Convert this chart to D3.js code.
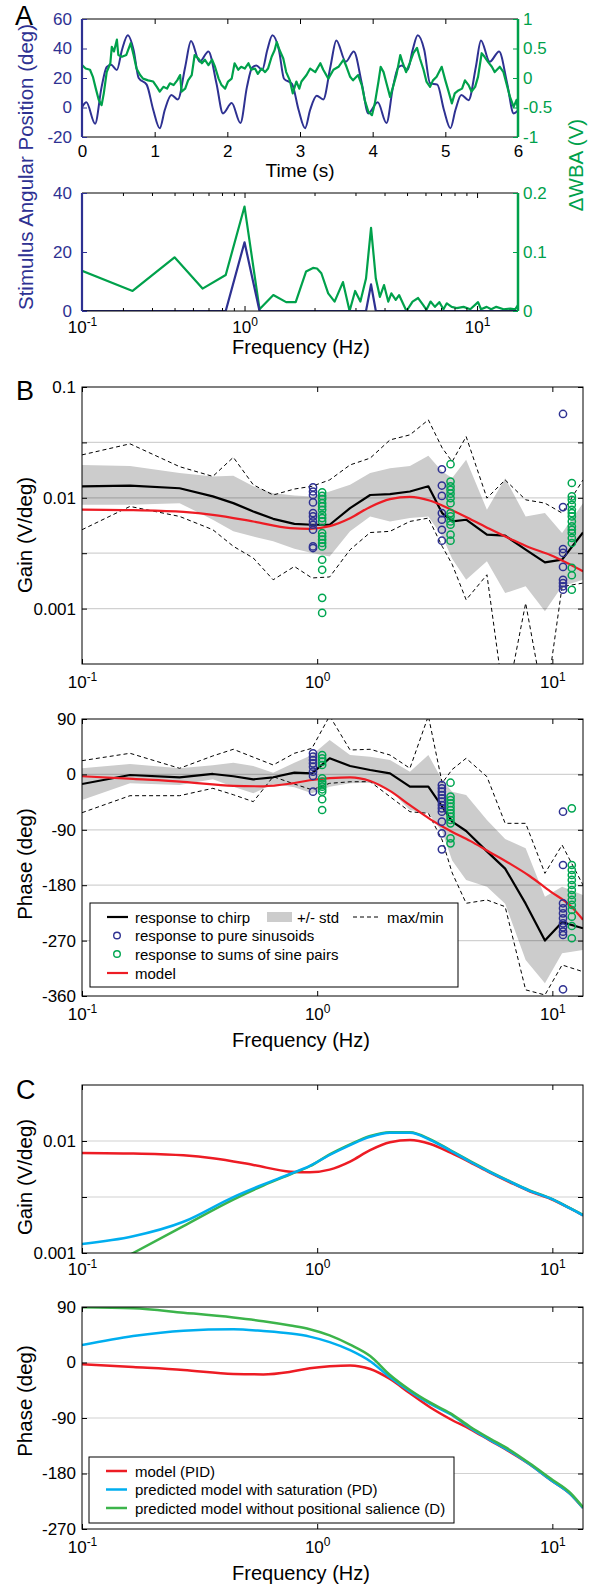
<!DOCTYPE html>
<html>
<head>
<meta charset="utf-8">
<script src="https://cdnjs.cloudflare.com/ajax/libs/d3/7.8.5/d3.min.js"></script>
<style>body { margin: 0; background: #fff; }</style>
</head>
<body>
<svg id="fig" width="598" height="1585"></svg>
<script>
const FONT = '"Liberation Sans", Arial, Helvetica, sans-serif';
const BLUE = '#2e3192', GREEN = '#00a14b', GREEN_C = '#3cb44b', RED = '#ed1c24', CYAN = '#00aeef', BAND = '#cccccc';

// ---------- A, top: stimulus and WBA traces ----------
const stimTime = [0.00, 0.06, 0.18, 0.27, 0.34, 0.40, 0.48, 0.55, 0.63, 0.71, 0.78, 0.89, 0.98, 1.07, 1.14, 1.23, 1.32, 1.42, 1.50, 1.62, 1.74, 1.85, 1.94,
  2.06, 2.18, 2.27, 2.34, 2.40, 2.48, 2.55, 2.62, 2.71, 2.78, 2.89, 2.98, 3.07, 3.14, 3.23, 3.32, 3.42, 3.50, 3.63, 3.74, 3.85, 3.94,
  4.07, 4.19, 4.28, 4.35, 4.40, 4.48, 4.55, 4.62, 4.71, 4.79, 4.89, 4.98, 5.07, 5.14, 5.22, 5.32, 5.42, 5.49, 5.61, 5.74, 5.85, 5.94, 6.00];
const stimDeg = [0, 3.5, -11, 14, 27.5, 29, 25.5, 39, 49, 39, 20, 15.5, -1.5, -14, -1.5, 8.5, 5.5, 27.5, 45, 31, 38, 16.5, -4,
  3, -10.5, 14, 27, 28.5, 25.5, 39, 49, 39, 19.5, 16, -1.5, -14, -1.5, 8, 5.5, 28, 45.5, 31, 38, 16.5, -4,
  3.5, -10.5, 14, 27, 28.5, 25.5, 39, 49, 39, 16.5, 15.5, -1.5, -14, -1.5, 8.5, 5, 27.5, 45.5, 31, 38, 16.5, -4, -2];

const wbaTime = [0.00, 0.05, 0.11, 0.15, 0.19, 0.23, 0.27, 0.30, 0.34, 0.39, 0.41, 0.44, 0.48, 0.50, 0.55, 0.61, 0.67, 0.71, 0.75, 0.80,
  0.84, 0.91, 0.98, 1.03, 1.07, 1.12, 1.17, 1.21, 1.26, 1.31, 1.35, 1.37, 1.42, 1.46, 1.51, 1.55, 1.60, 1.65, 1.69, 1.74,
  1.79, 1.83, 1.88, 1.92, 1.97, 2.01, 2.06, 2.10, 2.15, 2.19, 2.24, 2.29, 2.33, 2.38, 2.42, 2.47, 2.52, 2.56, 2.61, 2.65,
  2.68, 2.72, 2.77, 2.81, 2.86, 2.90, 2.95, 2.99, 3.02, 3.09, 3.14, 3.21, 3.28, 3.32, 3.39, 3.46, 3.53, 3.60, 3.64, 3.69,
  3.73, 3.80, 3.85, 3.89, 3.94, 3.99, 4.03, 4.08, 4.11, 4.15, 4.19, 4.24, 4.28, 4.33, 4.38, 4.41, 4.46, 4.51, 4.56, 4.61,
  4.65, 4.70, 4.74, 4.79, 4.83, 4.88, 4.95, 5.00, 5.04, 5.09, 5.13, 5.18, 5.23, 5.27, 5.32, 5.36, 5.41, 5.45, 5.50, 5.54,
  5.59, 5.64, 5.68, 5.75, 5.80, 5.84, 5.89, 5.94, 5.98, 6.00];
const wbaVolt = [0.22, 0.16, 0.14, 0.02, -0.18, -0.37, -0.46, -0.26, 0.10, 0.25, 0.53, 0.45, 0.65, 0.39, 0.36, 0.39, 0.59, 0.39, 0.16, 0.05,
  -0.01, -0.04, -0.06, -0.15, -0.23, -0.15, -0.18, -0.09, -0.12, -0.04, 0.05, -0.23, -0.18, -0.04, 0.05, 0.39, 0.33, 0.25, 0.31, 0.22,
  0.31, 0.19, -0.01, -0.12, -0.18, -0.06, -0.01, 0.25, 0.14, 0.19, 0.16, 0.25, 0.14, 0.16, 0.07, 0.16, 0.10, 0.16, 0.36, 0.47,
  0.61, 0.47, 0.33, 0.10, -0.04, -0.26, -0.06, -0.18, -0.06, 0.05, 0.16, 0.10, 0.25, 0.14, -0.01, 0.14, 0.19, 0.31, 0.19, 0.02,
  -0.04, 0.05, -0.12, -0.37, -0.57, -0.63, -0.43, -0.06, 0.19, 0.10, -0.09, -0.32, -0.15, 0.07, 0.39, 0.27, 0.10, 0.25, 0.42, 0.51,
  0.33, 0.14, -0.06, -0.15, -0.04, 0.02, 0.19, -0.04, -0.21, -0.43, -0.26, -0.21, -0.18, -0.04, -0.12, -0.23, -0.15, 0.02, 0.42, 0.36,
  0.27, 0.19, 0.10, 0.19, 0.10, -0.09, -0.32, -0.49, -0.37, -0.55];

// ---------- A, bottom: spectra ----------
const specStimFreq = [0.2, 0.83, 1.0, 1.16, 3.33, 3.5, 3.67, 15];
const specStimAmp = [0, 0, 23.3, 0, 0, 9.0, 0, 0];
const specWbaFreq = [0.2, 0.33, 0.5, 0.66, 0.83, 1.0, 1.16, 1.33, 1.51, 1.66, 1.84, 1.97, 2.05, 2.14, 2.29, 2.44, 2.65, 2.83, 2.99, 3.15,
  3.33, 3.5, 3.67, 3.82, 3.98, 4.15, 4.28, 4.47, 4.62, 4.97, 5.28, 5.58, 5.87, 6.06, 6.31, 6.59, 6.88, 7.17, 7.41, 7.78,
  8.17, 8.75, 9.35, 10.1, 10.4, 11.0, 11.5, 12.1, 13.0, 13.9, 14.6, 15.0];
const specWbaAmp = [0.068, 0.034, 0.091, 0.038, 0.061, 0.177, 0.003, 0.027, 0.015, 0.015, 0.067, 0.073, 0.072, 0.064, 0.030, 0.016, 0.049, 0.0, 0.034, 0.016,
  0.055, 0.141, 0.055, 0.024, 0.044, 0.016, 0.030, 0.019, 0.027, 0.0, 0.016, 0.022, 0.010, 0.002, 0.016, 0.007, 0.015, 0.003, 0.013, 0.007,
  0.005, 0.007, 0.003, 0.015, 0.003, 0.007, 0.003, 0.007, 0.003, 0.004, 0.003, 0.010];

// ---------- B: chirp response statistics ----------
const chirpFreq = [0.1, 0.16, 0.26, 0.36, 0.44, 0.535, 0.65, 0.8, 0.95, 1.13, 1.38, 1.68, 2.04, 2.48, 2.97, 3.4, 3.75, 4.3, 5.27, 6.3, 7.7, 9.3, 11.0, 13.5];
const chirpGain = [0.0127, 0.0129, 0.0122, 0.0103, 0.00895, 0.00753, 0.00646, 0.00582, 0.00571, 0.00571, 0.00807, 0.0106, 0.0108, 0.0114, 0.0127, 0.00728, 0.00612, 0.00634, 0.00465, 0.00455, 0.0034, 0.00261, 0.00277, 0.00486];
const chirpGainHi = [0.0198, 0.0194, 0.0167, 0.0156, 0.0158, 0.0127, 0.0110, 0.0105, 0.0103, 0.0114, 0.0131, 0.0167, 0.0185, 0.0194, 0.0239, 0.0173, 0.0151, 0.0220, 0.0078, 0.0150, 0.00679, 0.00728, 0.00481, 0.00895];
const chirpGainLo = [0.00865, 0.00865, 0.00895, 0.00634, 0.00498, 0.00447, 0.00405, 0.00347, 0.00318, 0.00296, 0.00498, 0.00679, 0.00612, 0.00656, 0.00679, 0.00449, 0.00282, 0.00182, 0.00267, 0.00138, 0.00159, 0.000946, 0.00159, 0.00182];
const chirpGainMax = [0.0244, 0.0307, 0.0191, 0.0156, 0.0232, 0.0131, 0.0106, 0.0120, 0.0127, 0.0145, 0.0198, 0.0228, 0.0333, 0.0370, 0.0505, 0.0282, 0.0212, 0.0357, 0.00993, 0.0145, 0.00959, 0.00895, 0.00728, 0.0145];
const chirpGainMin = [0.00515, 0.00836, 0.00679, 0.00515, 0.00365, 0.00286, 0.00182, 0.0024, 0.00189, 0.00193, 0.0034, 0.00486, 0.00498, 0.00612, 0.00656, 0.00365, 0.00251, 0.0012, 0.00202, 0.000126, 0.00112, 0.000126, 0.00158, 0.0017];

const chirpPhase = [-15.6, -1, -4.7, 0.7, -3, -8, -4.7, 2.8, 1.8, 26.2, 13.7, 7.2, 1.8, -20, -20, -52.5, -76.8, -92, -125, -153, -210, -270, -240, -250];
const chirpPhaseHi = [9.9, 16.9, 9.9, 15, 19, 13.7, 2.8, 19, 31.5, 55.9, 31.5, 28.8, 23.4, 4.4, 31.5, -9.1, -28, -33.5, -74.1, -105, -120, -198.7, -182.4, -195.9];
const chirpPhaseLo = [-41.6, -14.5, -17.2, -8, -20, -30.7, -15.6, -20.9, -30.7, -20, -14.5, -13.5, -25.3, -57.8, -63.2, -93.1, -140, -171.5, -182.4, -210, -301.5, -339.4, -290.6, -285.3];
const chirpPhaseMax = [22.3, 34.3, 9.9, 30, 40.8, 28, 15.3, 34.3, 42.4, 95, 39.6, 40.8, 31.5, 9.9, 95, -14, 8, 26.2, -3.7, -79.5, -79.5, -160.7, -114.7, -179.7];
const chirpPhaseMin = [-62.2, -34.6, -34.6, -22.6, -33, -44.3, -3.7, -15.6, -25, -14.5, -12, -11.8, -36.2, -60.6, -63.2, -106.6, -160, -209.4, -204, -214.9, -350, -358.3, -309.6, -320.5];

// single-frequency responses (circles)
const sineFreq = [0.96, 3.39, 11.1];
const pairFreq = [1.05, 3.69, 12.1];
const sineGain = [
  [0.0124, 0.0114, 0.0106, 0.00908, 0.00728, 0.00679, 0.00612, 0.00571, 0.00515, 0.00364, 0.00352],
  [0.0181, 0.0129, 0.0104, 0.00728, 0.00634, 0.00515, 0.0041],
  [0.0571, 0.00824, 0.00345, 0.00318, 0.00238, 0.00182, 0.0017, 0.00159, 0.00148]];
const pairGain = [
  [0.0112, 0.0104, 0.00973, 0.00895, 0.00836, 0.0078, 0.00703, 0.00656, 0.00612, 0.00481, 0.00449, 0.00419, 0.00391, 0.00364, 0.00276, 0.00224, 0.00125, 0.000914],
  [0.0201, 0.014, 0.0127, 0.0118, 0.0109, 0.00993, 0.00895, 0.00728, 0.00679, 0.00612, 0.00571, 0.00465, 0.0041],
  [0.0136, 0.0103, 0.00959, 0.00865, 0.0078, 0.00728, 0.00679, 0.00612, 0.00552, 0.00515, 0.00481, 0.00434, 0.00391, 0.00233, 0.002, 0.00148]];
const sinePhase = [
  [34.3, 28.8, 23.4, 18, 12.5, 4.4, -2.6, -28.1],
  [-17.2, -22.6, -28.1, -33.5, -38.8, -44.3, -49.7, -55.1, -60.6, -76.8, -95.7, -121.7],
  [-60.6, -147.2, -209.4, -217.6, -225.7, -233.8, -241.9, -248.4, -255.5, -260.9, -349.1]];
const pairPhase = [
  [31.5, 26.2, 20.6, 15.3, -6.3, -11.8, -15.6, -20, -24.2, -28.1, -40.4, -57.8],
  [-13.5, -36.2, -41.6, -46.9, -52.5, -57.8, -63.2, -68.7, -74.1, -79.5, -103.9, -112],
  [-55.1, -147.2, -155.3, -163.4, -171.5, -179.7, -187.8, -195.9, -204, -212.1, -220.3, -231.2, -246.3, -266.2]];

// ---------- models (B and C) ----------
const modelFreq = [0.1, 0.165, 0.27, 0.36, 0.535, 0.77, 0.93, 1.13, 1.38, 1.68, 2.04, 2.48, 3.03, 3.69, 4.47, 5.4, 6.6, 8.0, 9.8, 11.9, 13.5];
const pidGain = [0.00783, 0.00773, 0.00745, 0.00702, 0.00611, 0.00532, 0.00525, 0.00555, 0.00655, 0.00828, 0.00973, 0.0102, 0.0094, 0.00786, 0.00645, 0.00525, 0.00428, 0.00356, 0.00305, 0.0025, 0.00217];
const predFreq = [0.1, 0.165, 0.27, 0.44, 0.59, 0.77, 0.93, 1.13, 1.38, 1.68, 2.04, 2.48, 3.03, 3.69, 4.47, 5.4, 6.6, 8.0, 9.8, 11.9, 13.5];
const pidPhase = [-3, -7.4, -12, -18.5, -19.3, -15, -9.5, -6.2, -4.7, -10.6, -26.8, -50, -73, -92, -108, -126, -145, -165, -190, -213, -236];
const pdGain = [0.0012, 0.00141, 0.0019, 0.00316, 0.0041, 0.0051, 0.006, 0.0075, 0.0092, 0.0109, 0.01186, 0.01186, 0.0102, 0.00818, 0.00653, 0.00531, 0.00433, 0.00359, 0.00307, 0.0025, 0.00217];
const pdPhase = [28.4, 43, 51.6, 53.8, 51, 47, 42, 33, 20, 2, -24, -47, -67.3, -84, -106, -125, -144, -165, -190, -213, -236];
const dGain = [0.000562, 0.001, 0.00174, 0.003, 0.004, 0.00505, 0.00595, 0.00759, 0.00933, 0.0111, 0.0120, 0.01197, 0.01035, 0.00826, 0.00661, 0.00537, 0.00437, 0.00363, 0.00309, 0.00251, 0.00219];
const dPhase = [89.5, 87.9, 80.8, 73, 67, 60, 54, 44, 29, 10.5, -20.3, -44.6, -65.2, -82.4, -104.1, -122.9, -141.9, -163.5, -187.8, -211.1, -234.8];

// ---------- layout ----------
const A1 = {x0: 82, x1: 518, y0: 19, y1: 137};
const A2 = {x0: 82, x1: 518, y0: 193, y1: 311};
const B1 = {x0: 82, x1: 583, y0: 387, y1: 664};
const B2 = {x0: 82, x1: 583, y0: 719, y1: 996};
const C1 = {x0: 82, x1: 583, y0: 1085, y1: 1253};
const C2 = {x0: 82, x1: 583, y0: 1307, y1: 1529};

const svg = d3.select('#fig');
svg.append('rect').attr('width', 598).attr('height', 1585).attr('fill', '#fff');
const defs = svg.append('defs');
const plain = d => String(d);   // hyphen minus, as in the figure

function clipFor(id, b) {
  defs.append('clipPath').attr('id', id).append('rect')
    .attr('x', b.x0).attr('y', b.y0).attr('width', b.x1 - b.x0).attr('height', b.y1 - b.y0);
  return svg.append('g').attr('clip-path', `url(#${id})`);
}

function styleAxis(g, color) {
  g.select('.domain').remove();
  g.selectAll('line').attr('stroke', color || '#000');
  g.selectAll('text').attr('font-family', FONT).attr('font-size', 17).attr('fill', color || '#000');
}

function powerLabels(g) {
  g.selectAll('.tick text').each(function() {
    const t = d3.select(this);
    const e = t.text();
    t.text('10');
    t.append('tspan').attr('dy', '-0.55em').attr('font-size', 12).text(e);
  });
}

function frame(b) {
  svg.append('rect').attr('x', b.x0).attr('y', b.y0).attr('width', b.x1 - b.x0).attr('height', b.y1 - b.y0)
    .attr('fill', 'none').attr('stroke', '#000').attr('stroke-width', 1);
}

function grid(g, b, y, vals) {
  g.selectAll(null).data(vals).join('line')
    .attr('x1', b.x0).attr('x2', b.x1).attr('y1', d => y(d)).attr('y2', d => y(d))
    .attr('stroke', '#000').attr('stroke-opacity', 0.18).attr('stroke-width', 1.2);
}

function freqAxes(b, x, ticks, labels, pad) {
  svg.append('g').attr('transform', `translate(0,${b.y1})`)
    .call(d3.axisBottom(x).tickValues(ticks).tickSizeInner(-5).tickSizeOuter(0).tickPadding(pad).tickFormat((d, i) => labels[i]))
    .call(g => styleAxis(g)).call(powerLabels);
  svg.append('g').attr('transform', `translate(0,${b.y0})`)
    .call(d3.axisTop(x).tickValues(ticks).tickSizeInner(-5).tickSizeOuter(0).tickFormat(''))
    .call(g => styleAxis(g));
}

function yAxes(b, y, ticks, fmt) {
  svg.append('g').attr('transform', `translate(${b.x0},0)`)
    .call(d3.axisLeft(y).tickValues(ticks).tickSizeInner(-5).tickSizeOuter(0).tickPadding(6).tickFormat(fmt))
    .call(g => styleAxis(g));
  svg.append('g').attr('transform', `translate(${b.x1},0)`)
    .call(d3.axisRight(y).tickValues(ticks).tickSizeInner(-5).tickSizeOuter(0).tickFormat(''))
    .call(g => styleAxis(g));
}

function hlabel(text, x, y, size) {
  svg.append('text').attr('x', x).attr('y', y).attr('text-anchor', 'middle')
    .attr('font-family', FONT).attr('font-size', size || 20).attr('fill', '#000').text(text);
}

function vlabel(text, x, y, color) {
  svg.append('text').attr('transform', `translate(${x},${y}) rotate(-90)`).attr('text-anchor', 'middle')
    .attr('font-family', FONT).attr('font-size', 20.5).attr('fill', color || '#000').text(text);
}

function letter(t, x, y) {
  svg.append('text').attr('x', x).attr('y', y).attr('font-family', FONT).attr('font-size', 27).text(t);
}

function path(g, xs, ys, x, y, color, width, dash, curve) {
  const line = d3.line().x(d => x(d[0])).y(d => y(d[1])).curve(curve || d3.curveLinear);
  g.append('path').datum(d3.zip(xs, ys)).attr('d', line)
    .attr('fill', 'none').attr('stroke', color).attr('stroke-width', width)
    .attr('stroke-dasharray', dash || null).attr('stroke-linejoin', 'round');
}

function circles(g, freqs, groups, x, y, color) {
  groups.forEach((vals, i) => {
    g.selectAll(null).data(vals).join('circle')
      .attr('cx', x(freqs[i])).attr('cy', d => y(d)).attr('r', 3.6)
      .attr('fill', 'none').attr('stroke', color).attr('stroke-width', 1.5);
  });
}

// ================= A (top) =================
{
  const x = d3.scaleLinear().domain([0, 6]).range([A1.x0, A1.x1]);
  const yl = d3.scaleLinear().domain([-20, 60]).range([A1.y1, A1.y0]);
  const yr = d3.scaleLinear().domain([-1, 1]).range([A1.y1, A1.y0]);
  const g = clipFor('clipA1', A1);
  path(g, stimTime, stimDeg, x, yl, BLUE, 2, null, d3.curveMonotoneX);
  path(g, wbaTime, wbaVolt, x, yr, GREEN, 2.2);

  svg.append('line').attr('x1', A1.x0).attr('x2', A1.x1).attr('y1', A1.y0).attr('y2', A1.y0).attr('stroke', '#000');
  svg.append('line').attr('x1', A1.x0).attr('x2', A1.x1).attr('y1', A1.y1).attr('y2', A1.y1).attr('stroke', '#000');
  svg.append('g').attr('transform', `translate(0,${A1.y1})`)
    .call(d3.axisBottom(x).ticks(6).tickSizeInner(-5).tickSizeOuter(0).tickPadding(8).tickFormat(plain))
    .call(g => styleAxis(g));
  svg.append('g').attr('transform', `translate(0,${A1.y0})`)
    .call(d3.axisTop(x).ticks(6).tickSizeInner(-5).tickSizeOuter(0).tickFormat(''))
    .call(g => styleAxis(g));
  svg.append('g').attr('transform', `translate(${A1.x0},0)`)
    .call(d3.axisLeft(yl).tickValues([-20, 0, 20, 40, 60]).tickSizeInner(-5).tickSizeOuter(0).tickPadding(10).tickFormat(plain))
    .call(g => styleAxis(g, BLUE));
  svg.append('g').attr('transform', `translate(${A1.x1},0)`)
    .call(d3.axisRight(yr).tickValues([-1, -0.5, 0, 0.5, 1]).tickSizeInner(-5).tickSizeOuter(0).tickPadding(5).tickFormat(plain))
    .call(g => styleAxis(g, GREEN));
  svg.append('line').attr('x1', A1.x0).attr('x2', A1.x0).attr('y1', A1.y0).attr('y2', A1.y1).attr('stroke', BLUE).attr('stroke-width', 2.2);
  svg.append('line').attr('x1', A1.x1).attr('x2', A1.x1).attr('y1', A1.y0).attr('y2', A1.y1).attr('stroke', GREEN).attr('stroke-width', 2.5);
  hlabel('Time (s)', 300, 177, 19);
}

// ================= A (bottom) =================
{
  const x = d3.scaleLog().domain([0.2, 15]).range([A2.x0, A2.x1]);
  const yl = d3.scaleLinear().domain([0, 40]).range([A2.y1, A2.y0]);
  const yr = d3.scaleLinear().domain([0, 0.2]).range([A2.y1, A2.y0]);
  const g = clipFor('clipA2', A2);
  path(g, specWbaFreq, specWbaAmp, x, yr, GREEN, 2.2);
  path(g, specStimFreq, specStimAmp, x, yl, BLUE, 2.2);

  const minor = [0.3, 0.4, 0.5, 0.6, 0.7, 0.8, 0.9, 2, 3, 4, 5, 6, 7, 8, 9];
  svg.append('line').attr('x1', A2.x0).attr('x2', A2.x1).attr('y1', A2.y0).attr('y2', A2.y0).attr('stroke', '#000');
  svg.append('line').attr('x1', A2.x0).attr('x2', A2.x1).attr('y1', A2.y1).attr('y2', A2.y1).attr('stroke', '#000');
  freqAxes(A2, x, [0.2, 1, 10], ['-1', '0', '1'], 10);
  svg.append('g').attr('transform', `translate(0,${A2.y1})`)
    .call(d3.axisBottom(x).tickValues(minor).tickSizeInner(-3).tickSizeOuter(0).tickFormat(''))
    .call(g => styleAxis(g));
  svg.append('g').attr('transform', `translate(0,${A2.y0})`)
    .call(d3.axisTop(x).tickValues(minor).tickSizeInner(-3).tickSizeOuter(0).tickFormat(''))
    .call(g => styleAxis(g));
  svg.append('g').attr('transform', `translate(${A2.x0},0)`)
    .call(d3.axisLeft(yl).tickValues([0, 20, 40]).tickSizeInner(-5).tickSizeOuter(0).tickPadding(10).tickFormat(plain))
    .call(g => styleAxis(g, BLUE));
  svg.append('g').attr('transform', `translate(${A2.x1},0)`)
    .call(d3.axisRight(yr).tickValues([0, 0.1, 0.2]).tickSizeInner(-5).tickSizeOuter(0).tickPadding(5).tickFormat(plain))
    .call(g => styleAxis(g, GREEN));
  svg.append('line').attr('x1', A2.x0).attr('x2', A2.x0).attr('y1', A2.y0).attr('y2', A2.y1).attr('stroke', BLUE).attr('stroke-width', 2.2);
  svg.append('line').attr('x1', A2.x1).attr('x2', A2.x1).attr('y1', A2.y0).attr('y2', A2.y1).attr('stroke', GREEN).attr('stroke-width', 2.5);
  hlabel('Frequency (Hz)', 301, 354);
  vlabel('Stimulus Angular Position (deg)', 33, 167, BLUE);
  vlabel('\u0394WBA (V)', 583, 165, GREEN);
  letter('A', 15, 25);
}

// ================= B gain =================
const xB = d3.scaleLog().domain([0.1, 13.5]).range([B1.x0, B1.x1]);
const gainFmt = d => d === 0.1 ? '0.1' : d === 0.01 ? '0.01' : d === 0.001 ? '0.001' : '';
{
  const y = d3.scaleLog().domain([Math.pow(10, -3.5), 0.1]).range([B1.y1, B1.y0]);
  const g = clipFor('clipB1', B1);
  const idx = d3.range(chirpFreq.length);
  g.append('path').datum(idx)
    .attr('d', d3.area().x(i => xB(chirpFreq[i])).y0(i => y(chirpGainLo[i])).y1(i => y(chirpGainHi[i])))
    .attr('fill', BAND);
  const gridVals = [Math.pow(10, -1.5), 0.01, Math.pow(10, -2.5), 0.001];
  grid(g, B1, y, gridVals);
  path(g, chirpFreq, chirpGainMax, xB, y, '#000', 1, '4,3');
  path(g, chirpFreq, chirpGainMin, xB, y, '#000', 1, '4,3');
  path(g, chirpFreq, chirpGain, xB, y, '#000', 2.2);
  path(g, modelFreq, pidGain, xB, y, RED, 2.2, null, d3.curveMonotoneX);
  circles(g, sineFreq, sineGain, xB, y, BLUE);
  circles(g, pairFreq, pairGain, xB, y, '#00a651');
  frame(B1);
  freqAxes(B1, xB, [0.1, 1, 10], ['-1', '0', '1'], 12);
  yAxes(B1, y, [0.1, ...gridVals], gainFmt);
  vlabel('Gain (V/deg)', 32, 535);
  letter('B', 16, 400);
}

// ================= B phase =================
{
  const y = d3.scaleLinear().domain([-360, 90]).range([B2.y1, B2.y0]);
  const g = clipFor('clipB2', B2);
  const idx = d3.range(chirpFreq.length);
  g.append('path').datum(idx)
    .attr('d', d3.area().x(i => xB(chirpFreq[i])).y0(i => y(chirpPhaseLo[i])).y1(i => y(chirpPhaseHi[i])))
    .attr('fill', BAND);
  grid(g, B2, y, [0, -90, -180, -270]);
  path(g, chirpFreq, chirpPhaseMax, xB, y, '#000', 1, '4,3');
  path(g, chirpFreq, chirpPhaseMin, xB, y, '#000', 1, '4,3');
  path(g, chirpFreq, chirpPhase, xB, y, '#000', 2.2);
  path(g, predFreq, pidPhase, xB, y, RED, 2.2, null, d3.curveMonotoneX);
  circles(g, sineFreq, sinePhase, xB, y, BLUE);
  circles(g, pairFreq, pairPhase, xB, y, '#00a651');
  frame(B2);
  freqAxes(B2, xB, [0.1, 1, 10], ['-1', '0', '1'], 12);
  yAxes(B2, y, [90, 0, -90, -180, -270, -360], plain);
  vlabel('Phase (deg)', 32, 864);

  // legend
  const L = svg.append('g');
  L.append('rect').attr('x', 90).attr('y', 903).attr('width', 368).attr('height', 84)
    .attr('fill', '#fff').attr('stroke', '#000');
  const txt = (s, x, yy) => L.append('text').attr('x', x).attr('y', yy).attr('dominant-baseline', 'central')
    .attr('font-family', FONT).attr('font-size', 15).text(s);
  L.append('line').attr('x1', 107).attr('x2', 128).attr('y1', 917).attr('y2', 917).attr('stroke', '#000').attr('stroke-width', 2.2);
  txt('response to chirp', 135, 917);
  L.append('rect').attr('x', 267).attr('y', 912).attr('width', 25).attr('height', 10).attr('fill', BAND);
  txt('+/- std', 297, 917);
  L.append('line').attr('x1', 353).attr('x2', 381).attr('y1', 917).attr('y2', 917).attr('stroke', '#000').attr('stroke-dasharray', '4,3');
  txt('max/min', 387, 917);
  L.append('circle').attr('cx', 117).attr('cy', 935.5).attr('r', 3.3).attr('fill', 'none').attr('stroke', BLUE).attr('stroke-width', 1.4);
  txt('response to pure sinusoids', 135, 935.5);
  L.append('circle').attr('cx', 117).attr('cy', 954).attr('r', 3.3).attr('fill', 'none').attr('stroke', '#00a651').attr('stroke-width', 1.4);
  txt('response to sums of sine pairs', 135, 954);
  L.append('line').attr('x1', 107).attr('x2', 128).attr('y1', 973).attr('y2', 973).attr('stroke', RED).attr('stroke-width', 2.2);
  txt('model', 135, 973);
  hlabel('Frequency (Hz)', 301, 1047);
}

// ================= C gain =================
{
  const y = d3.scaleLog().domain([0.001, Math.pow(10, -1.5)]).range([C1.y1, C1.y0]);
  const g = clipFor('clipC1', C1);
  grid(g, C1, y, [0.01, Math.pow(10, -2.5)]);
  path(g, modelFreq, pidGain, xB, y, RED, 2.5, null, d3.curveMonotoneX);
  path(g, predFreq, dGain, xB, y, GREEN_C, 2.5, null, d3.curveMonotoneX);
  path(g, predFreq, pdGain, xB, y, CYAN, 2.5, null, d3.curveMonotoneX);
  frame(C1);
  freqAxes(C1, xB, [0.1, 1, 10], ['-1', '0', '1'], 10);
  yAxes(C1, y, [0.01, Math.pow(10, -2.5), 0.001], gainFmt);
  vlabel('Gain (V/deg)', 32, 1177);
  letter('C', 16, 1099);
}

// ================= C phase =================
{
  const y = d3.scaleLinear().domain([-270, 90]).range([C2.y1, C2.y0]);
  const g = clipFor('clipC2', C2);
  grid(g, C2, y, [0, -90, -180]);
  path(g, predFreq, pidPhase, xB, y, RED, 2.5, null, d3.curveMonotoneX);
  path(g, predFreq, pdPhase, xB, y, CYAN, 2.5, null, d3.curveMonotoneX);
  path(g, predFreq, dPhase, xB, y, GREEN_C, 2.5, null, d3.curveMonotoneX);
  frame(C2);
  freqAxes(C2, xB, [0.1, 1, 10], ['-1', '0', '1'], 12);
  yAxes(C2, y, [90, 0, -90, -180, -270], plain);
  vlabel('Phase (deg)', 32, 1401);

  const L = svg.append('g');
  L.append('rect').attr('x', 89).attr('y', 1457).attr('width', 365).attr('height', 66)
    .attr('fill', '#fff').attr('stroke', '#000');
  const items = [['model (PID)', RED], ['predicted model with saturation (PD)', CYAN], ['predicted model without positional salience (D)', GREEN_C]];
  items.forEach((it, i) => {
    const yy = 1471 + i * 18.5;
    L.append('line').attr('x1', 106).attr('x2', 127).attr('y1', yy).attr('y2', yy).attr('stroke', it[1]).attr('stroke-width', 2.5);
    L.append('text').attr('x', 135).attr('y', yy).attr('dominant-baseline', 'central')
      .attr('font-family', FONT).attr('font-size', 15).text(it[0]);
  });
  hlabel('Frequency (Hz)', 301, 1580);
}
</script>
</body>
</html>
